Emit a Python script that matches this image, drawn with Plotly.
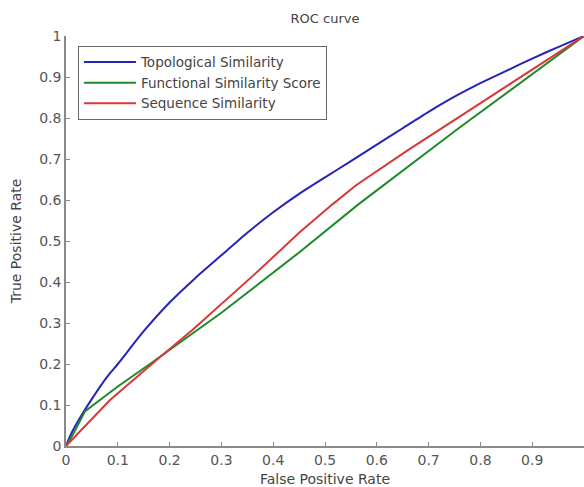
import plotly.graph_objects as go

# Topological Similarity
topo_fpr = [0.0, 0.01, 0.03, 0.05, 0.08, 0.1, 0.15, 0.2, 0.25, 0.3, 0.35, 0.4, 0.45, 0.5, 0.55, 0.6, 0.65, 0.7, 0.75, 0.8, 0.85, 0.9, 0.95, 1.0]
topo_tpr = [0.0, 0.03, 0.075, 0.115, 0.17, 0.2, 0.28, 0.35, 0.41, 0.465, 0.52, 0.57, 0.615, 0.655, 0.695, 0.735, 0.775, 0.815, 0.852, 0.885, 0.915, 0.945, 0.973, 1.0]

# Functional Similarity Score
func_fpr = [0.0, 0.01, 0.037, 0.1, 0.162, 0.2, 0.3, 0.45, 0.565, 0.758, 1.0]
func_tpr = [0.0, 0.02, 0.085, 0.145, 0.2, 0.235, 0.325, 0.472, 0.59, 0.775, 1.0]

# Sequence Similarity
seq_fpr = [0.0, 0.085, 0.18, 0.244, 0.373, 0.45, 0.515, 0.56, 0.658, 0.758, 0.88, 1.0]
seq_tpr = [0.0, 0.112, 0.215, 0.283, 0.429, 0.52, 0.59, 0.636, 0.72, 0.802, 0.9, 1.0]

ticks = [0, 0.1, 0.2, 0.3, 0.4, 0.5, 0.6, 0.7, 0.8, 0.9, 1]
tick_text = ["0", "0.1", "0.2", "0.3", "0.4", "0.5", "0.6", "0.7", "0.8", "0.9", "1"]

FONT = "DejaVu Sans, sans-serif"

fig = go.Figure()
fig.add_trace(go.Scatter(x=topo_fpr, y=topo_tpr, mode="lines", name="Topological Similarity",
                         line=dict(color="#2424b8", width=2, shape="spline", smoothing=0.6)))
fig.add_trace(go.Scatter(x=func_fpr, y=func_tpr, mode="lines", name="Functional Similarity Score",
                         line=dict(color="#1f8a2a", width=2)))
fig.add_trace(go.Scatter(x=seq_fpr, y=seq_tpr, mode="lines", name="Sequence Similarity",
                         line=dict(color="#d83838", width=2)))

axis_common = dict(
    range=[0, 1], tickvals=ticks, ticktext=tick_text,
    showgrid=False, zeroline=False, showline=True, linecolor="#8a8a8a", linewidth=1.5,
    ticks="inside", ticklen=4, tickcolor="#8a8a8a", tickwidth=1,
    tickfont=dict(family=FONT, size=14, color="#555555"),
    mirror=False, automargin=False,
)

fig.update_layout(
    width=584, height=487,
    paper_bgcolor="white", plot_bgcolor="white",
    margin=dict(l=66, r=0, t=36, b=41),
    font=dict(family=FONT, size=13, color="#444444"),
    title=dict(text="ROC curve", x=325/584, xanchor="center", y=1-18/487, yanchor="middle",
               font=dict(family=FONT, size=13, color="#444444")),
    xaxis=dict(**axis_common, title=dict(text="False Positive Rate", standoff=8,
               font=dict(family=FONT, size=14, color="#444444"))),
    yaxis=dict(**axis_common, title=dict(text="True Positive Rate", standoff=14,
               font=dict(family=FONT, size=14, color="#444444"))),
    legend=dict(x=0.023, y=0.976, xanchor="left", yanchor="top",
                bgcolor="white", bordercolor="#666666", borderwidth=1,
                font=dict(family=FONT, size=13.5, color="#444444"),
                itemwidth=52, tracegroupgap=0),
    showlegend=True,
)

fig.write_html("out.html", config={"displayModeBar": False},
               post_script="document.body.style.margin='0px';")
